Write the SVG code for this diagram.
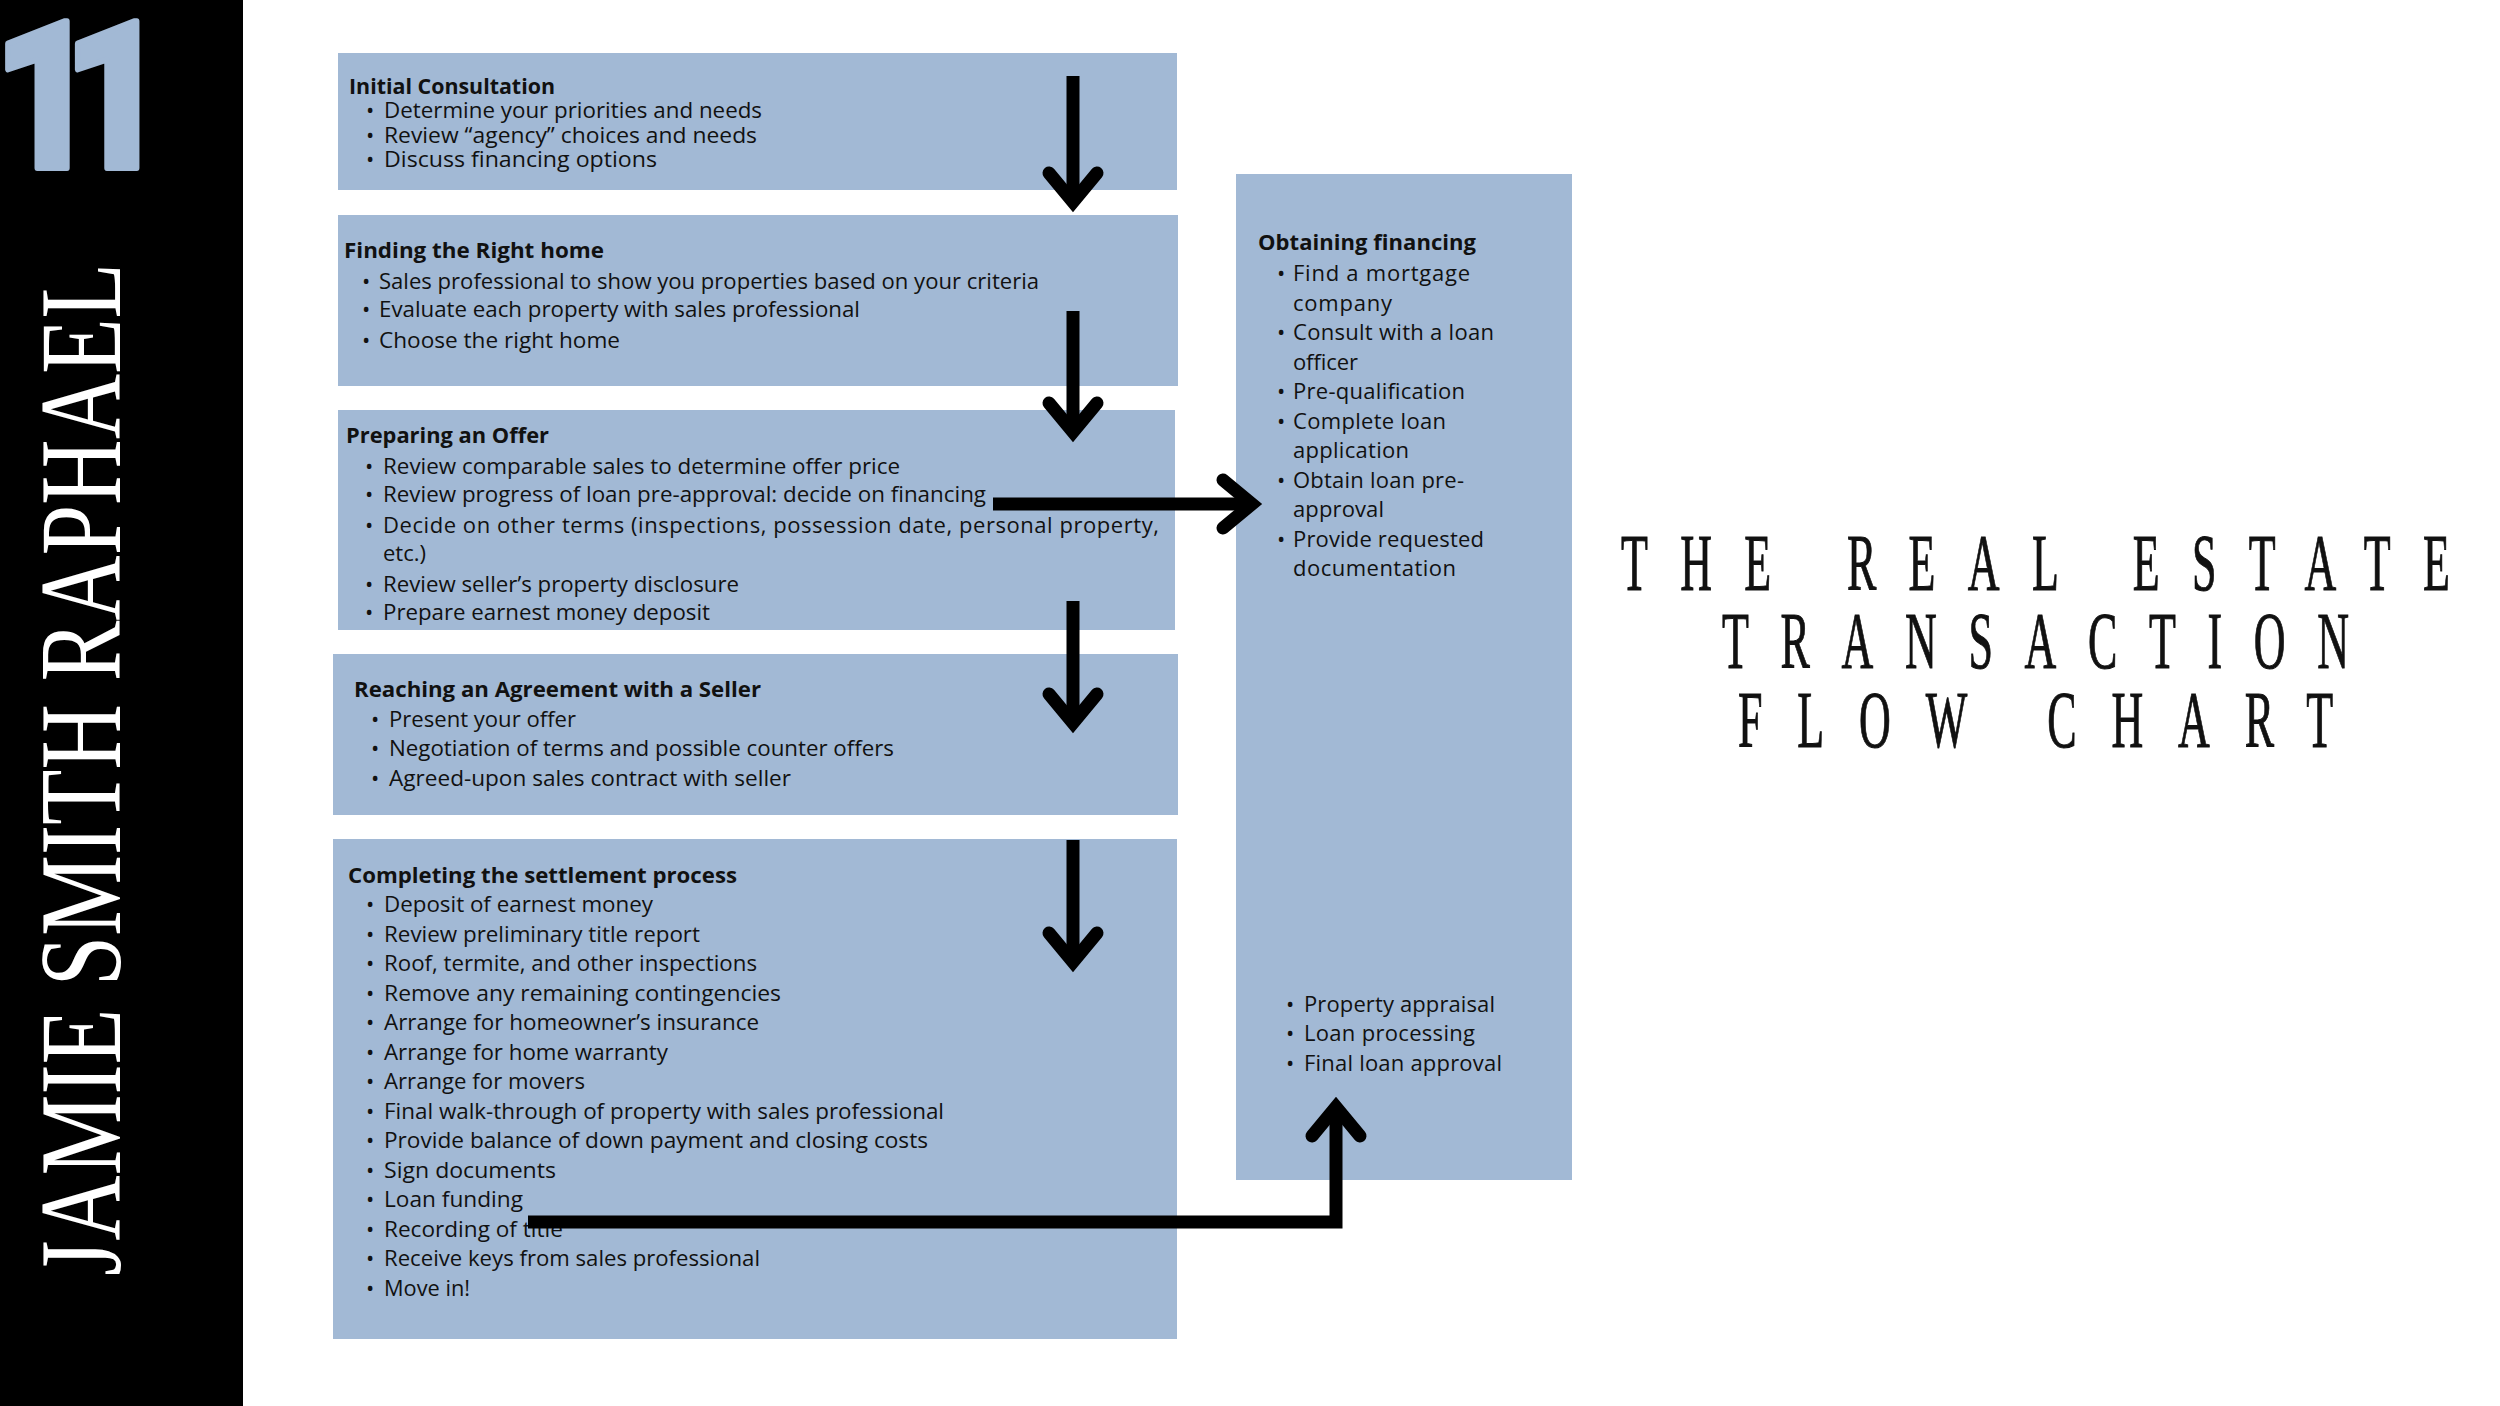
<svg xmlns="http://www.w3.org/2000/svg" width="2500" height="1406" viewBox="0 0 2500 1406">
<style>
.box{fill:#a2b9d5}
.h{font-family:"Open Sans","Liberation Sans",sans-serif;font-weight:700;font-size:22px;fill:#111}
.t{font-family:"Open Sans","Liberation Sans",sans-serif;font-size:22px;fill:#111}
.r{font-family:"Open Sans","Liberation Sans",sans-serif;font-size:22px;fill:#111}
.rh{font-family:"Open Sans","Liberation Sans",sans-serif;font-weight:700;font-size:22px;fill:#111}
.num{font-family:"Roboto","Liberation Sans",sans-serif;font-weight:900;font-size:206px;fill:#a2b9d5;stroke:#a2b9d5;stroke-width:6;stroke-linejoin:round}
.name{font-family:"Liberation Serif","Times New Roman",serif;font-size:116px;fill:#fff}
.ttl{font-family:"Liberation Serif","Times New Roman",serif;font-size:80px;fill:#111;stroke:#111;stroke-width:1}
.c{stroke:#000;stroke-width:13;fill:none}
</style>
<defs>
<marker id="ah" markerUnits="userSpaceOnUse" orient="auto" viewBox="-50 -50 100 100" refX="0" refY="0" markerWidth="100" markerHeight="100" overflow="visible">
<path d="M -29 -24 L 0 0 L -29 24" fill="none" stroke="#000" stroke-width="13" stroke-linecap="round" stroke-linejoin="miter"/>
</marker>
</defs>
<rect width="2500" height="1406" fill="#fff"/>
<g id="sidebar">
<rect x="0" y="0" width="243" height="1406" fill="#000"/>
<text class="num" transform="scale(0.88,1)" x="-8" y="168" letter-spacing="-40">11</text>
<text class="name" transform="translate(120,1276) rotate(-90)" x="0" y="0" textLength="1013" lengthAdjust="spacingAndGlyphs">JAMIE SMITH RAPHAEL</text>
</g>
<g id="title">
<text class="ttl" transform="translate(1621,590) scale(0.55,1)" x="0" y="0" textLength="1507" lengthAdjust="spacing">THE REAL ESTATE</text>
<text class="ttl" transform="translate(1722,668) scale(0.55,1)" x="0" y="0" textLength="1140" lengthAdjust="spacing">TRANSACTION</text>
<text class="ttl" transform="translate(1738,747) scale(0.55,1)" x="0" y="0" textLength="1082" lengthAdjust="spacing">FLOW CHART</text>
</g>
<g id="n-consultation">
<rect class="box" x="338" y="53" width="839" height="137"/>
<text class="h" x="349" y="94" textLength="206" lengthAdjust="spacingAndGlyphs">Initial Consultation</text>
<text class="t" x="366" y="118">•</text><text class="t" x="384" y="118" textLength="378" lengthAdjust="spacingAndGlyphs">Determine your priorities and needs</text>
<text class="t" x="366" y="143">•</text><text class="t" x="384" y="143" textLength="373" lengthAdjust="spacingAndGlyphs">Review “agency” choices and needs</text>
<text class="t" x="366" y="167">•</text><text class="t" x="384" y="167" textLength="273" lengthAdjust="spacingAndGlyphs">Discuss financing  options</text>
</g>
<g id="n-finding">
<rect class="box" x="338" y="215" width="840" height="171"/>
<text class="h" x="344" y="258" textLength="260" lengthAdjust="spacingAndGlyphs">Finding the Right home</text>
<text class="t" x="362" y="289">•</text><text class="t" x="379" y="289" textLength="660" lengthAdjust="spacingAndGlyphs">Sales professional to show you properties based on your criteria</text>
<text class="t" x="362" y="317">•</text><text class="t" x="379" y="317" textLength="481" lengthAdjust="spacingAndGlyphs">Evaluate each property with sales professional</text>
<text class="t" x="362" y="348">•</text><text class="t" x="379" y="348" textLength="241" lengthAdjust="spacingAndGlyphs">Choose the right home</text>
</g>
<g id="n-offer">
<rect class="box" x="338" y="410" width="837" height="220"/>
<text class="h" x="346" y="443" textLength="203" lengthAdjust="spacingAndGlyphs">Preparing an Offer</text>
<text class="t" x="365" y="474">•</text><text class="t" x="383" y="474" textLength="517" lengthAdjust="spacingAndGlyphs">Review comparable sales to determine offer price</text>
<text class="t" x="365" y="502">•</text><text class="t" x="383" y="502" textLength="603" lengthAdjust="spacingAndGlyphs">Review progress of loan pre-approval: decide on financing</text>
<text class="t" x="365" y="533">•</text><text class="t" x="383" y="533" textLength="776" lengthAdjust="spacing">Decide on other terms (inspections, possession date, personal property,</text>
<text class="t" x="383" y="561">etc.)</text>
<text class="t" x="365" y="592">•</text><text class="t" x="383" y="592" textLength="356" lengthAdjust="spacingAndGlyphs">Review seller’s property disclosure</text>
<text class="t" x="365" y="620">•</text><text class="t" x="383" y="620" textLength="327" lengthAdjust="spacingAndGlyphs">Prepare earnest money deposit</text>
</g>
<g id="n-agreement">
<rect class="box" x="333" y="654" width="845" height="161"/>
<text class="h" x="354" y="697" textLength="407" lengthAdjust="spacingAndGlyphs">Reaching an Agreement with a Seller</text>
<text class="t" x="371" y="727">•</text><text class="t" x="389" y="727" textLength="187" lengthAdjust="spacingAndGlyphs">Present your offer</text>
<text class="t" x="371" y="756">•</text><text class="t" x="389" y="756" textLength="505" lengthAdjust="spacingAndGlyphs">Negotiation of terms and possible counter offers</text>
<text class="t" x="371" y="786">•</text><text class="t" x="389" y="786" textLength="402" lengthAdjust="spacingAndGlyphs">Agreed-upon sales contract with seller</text>
</g>
<g id="n-settlement">
<rect class="box" x="333" y="839" width="844" height="500"/>
<text class="h" x="348" y="883" textLength="389" lengthAdjust="spacingAndGlyphs">Completing the settlement process</text>
<text class="t" x="366" y="912">•</text><text class="t" x="384" y="912" textLength="269" lengthAdjust="spacingAndGlyphs">Deposit of earnest money</text>
<text class="t" x="366" y="942">•</text><text class="t" x="384" y="942" textLength="316" lengthAdjust="spacingAndGlyphs">Review preliminary title report</text>
<text class="t" x="366" y="971">•</text><text class="t" x="384" y="971" textLength="373" lengthAdjust="spacingAndGlyphs">Roof, termite, and other inspections</text>
<text class="t" x="366" y="1001">•</text><text class="t" x="384" y="1001" textLength="397" lengthAdjust="spacingAndGlyphs">Remove any remaining contingencies</text>
<text class="t" x="366" y="1030">•</text><text class="t" x="384" y="1030" textLength="375" lengthAdjust="spacingAndGlyphs">Arrange for homeowner’s insurance</text>
<text class="t" x="366" y="1060">•</text><text class="t" x="384" y="1060" textLength="284" lengthAdjust="spacingAndGlyphs">Arrange for home warranty</text>
<text class="t" x="366" y="1089">•</text><text class="t" x="384" y="1089" textLength="201" lengthAdjust="spacingAndGlyphs">Arrange for movers</text>
<text class="t" x="366" y="1119">•</text><text class="t" x="384" y="1119" textLength="560" lengthAdjust="spacingAndGlyphs">Final walk-through of property with sales professional</text>
<text class="t" x="366" y="1148">•</text><text class="t" x="384" y="1148" textLength="544" lengthAdjust="spacingAndGlyphs">Provide balance of down payment and closing costs</text>
<text class="t" x="366" y="1178">•</text><text class="t" x="384" y="1178" textLength="172" lengthAdjust="spacingAndGlyphs">Sign documents</text>
<text class="t" x="366" y="1207">•</text><text class="t" x="384" y="1207" textLength="139" lengthAdjust="spacingAndGlyphs">Loan funding</text>
<text class="t" x="366" y="1237">•</text><text class="t" x="384" y="1237" textLength="179" lengthAdjust="spacingAndGlyphs">Recording of title</text>
<text class="t" x="366" y="1266">•</text><text class="t" x="384" y="1266" textLength="376" lengthAdjust="spacingAndGlyphs">Receive keys from sales professional</text>
<text class="t" x="366" y="1296">•</text><text class="t" x="384" y="1296" textLength="86" lengthAdjust="spacingAndGlyphs">Move in!</text>
</g>
<g id="n-financing">
<rect class="box" x="1236" y="174" width="336" height="1006"/>
<text class="rh" x="1258" y="250" textLength="218" lengthAdjust="spacing">Obtaining financing</text>
<text class="r" x="1277" y="281">•</text><text class="r" x="1293" y="281" textLength="177" lengthAdjust="spacing">Find a mortgage</text>
<text class="r" x="1293" y="311" textLength="99" lengthAdjust="spacing">company</text>
<text class="r" x="1277" y="340">•</text><text class="r" x="1293" y="340" textLength="201" lengthAdjust="spacing">Consult with a loan</text>
<text class="r" x="1293" y="370" textLength="65" lengthAdjust="spacing">officer</text>
<text class="r" x="1277" y="399">•</text><text class="r" x="1293" y="399" textLength="172" lengthAdjust="spacing">Pre-qualification</text>
<text class="r" x="1277" y="429">•</text><text class="r" x="1293" y="429" textLength="153" lengthAdjust="spacing">Complete loan</text>
<text class="r" x="1293" y="458" textLength="116" lengthAdjust="spacing">application</text>
<text class="r" x="1277" y="488">•</text><text class="r" x="1293" y="488" textLength="171" lengthAdjust="spacing">Obtain loan pre-</text>
<text class="r" x="1293" y="517" textLength="91" lengthAdjust="spacing">approval</text>
<text class="r" x="1277" y="547">•</text><text class="r" x="1293" y="547" textLength="191" lengthAdjust="spacing">Provide requested</text>
<text class="r" x="1293" y="576" textLength="163" lengthAdjust="spacing">documentation</text>
<text class="r" x="1286" y="1012">•</text><text class="r" x="1304" y="1012" textLength="191" lengthAdjust="spacing">Property appraisal</text>
<text class="r" x="1286" y="1041">•</text><text class="r" x="1304" y="1041" textLength="171" lengthAdjust="spacing">Loan processing</text>
<text class="r" x="1286" y="1071">•</text><text class="r" x="1304" y="1071" textLength="198" lengthAdjust="spacing">Final loan approval</text>
</g>
<g id="connectors">
<path class="c" d="M 1073 76 L 1073 202" marker-end="url(#ah)"/>
<path class="c" d="M 1073 311 L 1073 432" marker-end="url(#ah)"/>
<path class="c" d="M 1073 601 L 1073 723" marker-end="url(#ah)"/>
<path class="c" d="M 1073 840 L 1073 962" marker-end="url(#ah)"/>
<path class="c" d="M 993 504 L 1252 504" marker-end="url(#ah)"/>
<path class="c" d="M 528 1222 L 1336 1222 L 1336 1107" stroke-linejoin="miter" marker-end="url(#ah)"/>
</g>
</svg>
